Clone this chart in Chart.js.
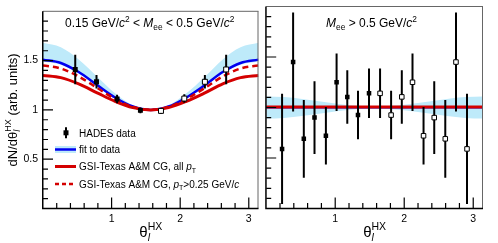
<!DOCTYPE html>
<html><head><meta charset="utf-8">
<script src="https://cdn.jsdelivr.net/npm/chart.js@4.4.0/dist/chart.umd.min.js"></script>
<style>
html,body{margin:0;padding:0;background:#fff;}
#wrap{position:relative;width:498px;height:243px;overflow:hidden;background:#fff;}
.box{position:absolute;top:0;}
</style></head><body>
<div id="wrap">
<div class="box" style="left:0;width:263px;height:243px"><canvas id="c1" width="263" height="243"></canvas></div>
<div class="box" style="left:262px;width:236px;height:243px"><canvas id="c2" width="236" height="243"></canvas></div>
</div>
<script>
// ---------------- data ----------------
const xTickValues = [1, 2, 3];
const xTickLabels = ['1', '2', '3'];
const yTickValues = [0.5, 1, 1.5];
const yTickLabels = ['0.5', '1', '1.5'];

// low mass panel (0.15 < Mee < 0.5 GeV/c^2)
const lowThetaFilled = [0.47, 0.78, 1.08, 1.42];
const lowValueFilled = [1.41, 1.285, 1.11, 0.995];
const lowErrorFilled = [0.15, 0.068, 0.043, 0.03];
const lowThetaOpen = [1.72, 2.06, 2.36, 2.67];
const lowValueOpen = [0.99, 1.115, 1.285, 1.41];
const lowErrorOpen = [0.03, 0.043, 0.068, 0.15];

const curveTheta = [0, 0.26, 0.52, 0.79, 1.05, 1.31, 1.5708, 1.83, 2.09, 2.36, 2.62, 2.88, 3.1416];
const fitLow = [1.51, 1.476, 1.384, 1.252, 1.126, 1.034, 1.0, 1.034, 1.126, 1.252, 1.384, 1.476, 1.51];
const fitBandLowTop = [1.68, 1.635, 1.512, 1.337, 1.168, 1.045, 1.0, 1.045, 1.168, 1.337, 1.512, 1.635, 1.68];
const fitBandLowBottom = [1.49, 1.458, 1.369, 1.243, 1.121, 1.033, 1.0, 1.033, 1.121, 1.243, 1.369, 1.458, 1.49];
const gsiAllPtLow = [1.35, 1.327, 1.264, 1.173, 1.087, 1.023, 1.0, 1.023, 1.087, 1.173, 1.264, 1.327, 1.35];
const gsiPtCutLow = [1.45, 1.42, 1.339, 1.223, 1.111, 1.030, 1.0, 1.030, 1.111, 1.223, 1.339, 1.42, 1.45];

// high mass panel (Mee > 0.5 GeV/c^2)
const highThetaFilled = [0.23, 0.39, 0.545, 0.70, 0.865, 1.02, 1.175, 1.33, 1.49];
const highValueFilled = [0.59, 1.45, 0.69, 0.90, 0.72, 1.25, 1.105, 0.925, 1.14];
const highErrorFilled = [0.545, 0.49, 0.385, 0.36, 0.285, 0.285, 0.265, 0.24, 0.245];
const highThetaOpen = [1.65, 1.81, 1.965, 2.12, 2.28, 2.435, 2.595, 2.75, 2.91];
const highValueOpen = [1.14, 0.925, 1.105, 1.25, 0.72, 0.90, 0.69, 1.45, 0.59];
const highErrorOpen = [0.245, 0.24, 0.265, 0.285, 0.285, 0.36, 0.385, 0.49, 0.545];

const fitHigh = [1.003, 1.003, 1.003, 1.003, 1.003, 1.003, 1.003, 1.003, 1.003, 1.003, 1.003, 1.003, 1.003];
const fitBandHighTop = [1.11, 1.103, 1.085, 1.06, 1.035, 1.017, 1.01, 1.017, 1.035, 1.06, 1.085, 1.103, 1.11];
const fitBandHighBottom = [0.89, 0.897, 0.915, 0.94, 0.965, 0.983, 0.99, 0.983, 0.965, 0.94, 0.915, 0.897, 0.89];
const gsiHigh = [1.004, 1.004, 1.004, 1.004, 1.004, 1.004, 1.004, 1.004, 1.004, 1.004, 1.004, 1.004, 1.004];

// ---------------- helpers ----------------
const FONT = "'Liberation Sans', Arial, Helvetica, sans-serif";
const BLUE = '#0000f0', RED = '#d40000', BAND = 'rgb(190,234,250)';

function pts(xs, ys) { return xs.map((x, i) => ({x: x, y: ys[i]})); }
function errPts(xs, ys, es) {
  const out = [];
  xs.forEach((x, i) => { out.push({x: x, y: ys[i] - es[i]}, {x: x, y: ys[i] + es[i]}, {x: x, y: null}); });
  return out;
}
function curve(ys, color, width, dash, order) {
  return {data: pts(curveTheta, ys), showLine: true, borderColor: color, borderWidth: width, borderDash: dash || [],
    pointRadius: 0, fill: false, cubicInterpolationMode: 'monotone', order: order};
}
function band(top, bottom, order) {
  return [
    {data: pts(curveTheta, top), showLine: true, borderWidth: 0, borderColor: 'rgba(0,0,0,0)', backgroundColor: BAND,
     pointRadius: 0, fill: '+1', cubicInterpolationMode: 'monotone', order: order},
    {data: pts(curveTheta, bottom), showLine: true, borderWidth: 0, borderColor: 'rgba(0,0,0,0)',
     pointRadius: 0, fill: false, cubicInterpolationMode: 'monotone', order: order + 1}
  ];
}
function markers(xs, ys, open, r, order) {
  return {data: pts(xs, ys), showLine: false, pointStyle: 'rect', pointRadius: r, pointHoverRadius: r,
    backgroundColor: open ? '#fff' : '#000', borderColor: '#000', borderWidth: open ? 1 : 0, order: order};
}
function errors(xs, ys, es, order) {
  return {data: errPts(xs, ys, es), showLine: true, spanGaps: false, borderColor: '#000', borderWidth: 2,
    pointRadius: 0, fill: false, order: order};
}

function rich(ctx, x, y, parts, size) {
  let cx = x;
  for (const p of parts) {
    const s = (p.sub || p.sup) ? size * 0.7 : size;
    ctx.font = (p.i ? 'italic ' : '') + s + 'px ' + FONT;
    let yy = y;
    if (p.sub) yy = y + size * 0.28;
    if (p.sup) yy = y - size * 0.42;
    ctx.fillText(p.t, cx, yy);
    if (!p.stack) cx += ctx.measureText(p.t).width;
  }
  return cx - x;
}
function richWidth(ctx, parts, size) {
  let w = 0;
  for (const p of parts) {
    const s = (p.sub || p.sup) ? size * 0.7 : size;
    ctx.font = (p.i ? 'italic ' : '') + s + 'px ' + FONT;
    if (!p.stack) w += ctx.measureText(p.t).width;
  }
  return w;
}

function drawFrameTicks(chart) {
  const {ctx, chartArea: a, scales: {x, y}} = chart;
  ctx.save();
  ctx.strokeStyle = '#000';
  ctx.lineWidth = 1.2;
  ctx.beginPath();
  for (let k = 1; k * 0.2 < Math.PI; k++) {
    const v = k * 0.2;
    const major = Math.abs(v - Math.round(v)) < 1e-6;
    const px = x.getPixelForValue(v);
    ctx.moveTo(px, a.bottom);
    ctx.lineTo(px, a.bottom - (major ? 11 : 5.5));
  }
  for (let k = 1; k < 20; k++) {
    const v = k * 0.1;
    const major = k % 5 === 0;
    const py = y.getPixelForValue(v);
    ctx.moveTo(a.left, py);
    ctx.lineTo(a.left + (major ? 10 : 5), py);
  }
  ctx.stroke();
  // frame
  ctx.strokeStyle = '#666';
  ctx.lineWidth = 1;
  ctx.beginPath();
  ctx.moveTo(a.left, a.top);
  ctx.lineTo(a.right, a.top);
  ctx.moveTo(a.right - 0.5, a.top);
  ctx.lineTo(a.right - 0.5, a.bottom);
  ctx.stroke();
  ctx.strokeStyle = '#000';
  ctx.lineWidth = 1.5;
  ctx.beginPath();
  ctx.moveTo(a.left - 0.25, a.top);
  ctx.lineTo(a.left - 0.25, a.bottom + 0.75);
  ctx.moveTo(a.left - 1, a.bottom);
  ctx.lineTo(a.right, a.bottom);
  ctx.stroke();
  ctx.restore();
}

function xTitle(ctx, cx, baseline) {
  ctx.fillStyle = '#000';
  ctx.textBaseline = 'alphabetic';
  ctx.textAlign = 'left';
  const parts = [{t: 'θ'}, {t: 'l', i: 1, sub: 1, stack: 1}, {t: 'HX', sup: 1}];
  const w = richWidth(ctx, parts, 15);
  rich(ctx, cx - w / 2, baseline, parts, 15);
}

function scalesFor(showY, yWidth) {
  return {
    x: {type: 'linear', min: 0, max: Math.PI, grid: {display: false, drawTicks: false}, border: {display: false},
      afterBuildTicks: s => { s.ticks = xTickValues.map(v => ({value: v})); },
      ticks: {callback: (v, i) => xTickLabels[i], font: {family: FONT, size: 10.5}, color: '#000', padding: 4,
        maxRotation: 0, autoSkip: false},
      afterFit: s => { s.height = 34.5; }},
    y: {type: 'linear', min: 0, max: 2, display: showY, grid: {display: false, drawTicks: false}, border: {display: false},
      afterBuildTicks: s => { s.ticks = yTickValues.map(v => ({value: v})); },
      ticks: {callback: (v, i) => yTickLabels[i], font: {family: FONT, size: 10.5}, color: '#000', padding: 5,
        autoSkip: false},
      afterFit: s => { s.width = yWidth; }}
  };
}

// ---------------- left chart ----------------
const leftText = {
  id: 'leftText',
  afterDatasetsDraw(chart) { drawFrameTicks(chart); },
  afterDraw(chart) {
    const {ctx, chartArea: a} = chart;
    ctx.save();
    ctx.fillStyle = '#000';
    ctx.textBaseline = 'alphabetic';
    ctx.textAlign = 'left';
    rich(ctx, 65, 27, [{t: '0.15 GeV/'}, {t: 'c', i: 1}, {t: '2', sup: 1}, {t: ' < '}, {t: 'M', i: 1}, {t: 'ee', sub: 1},
      {t: ' < 0.5 GeV/'}, {t: 'c', i: 1}, {t: '2', sup: 1}], 12);
    // legend
    ctx.fillStyle = '#000';
    ctx.strokeStyle = '#000';
    ctx.lineWidth = 2;
    ctx.beginPath(); ctx.moveTo(66, 127.3); ctx.lineTo(66, 138.3); ctx.stroke();
    ctx.fillRect(63.5, 130.3, 5, 5);
    ctx.fillStyle = BAND; ctx.fillRect(55, 146, 21, 7);
    ctx.strokeStyle = BLUE; ctx.lineWidth = 2.5;
    ctx.beginPath(); ctx.moveTo(55, 149.5); ctx.lineTo(76, 149.5); ctx.stroke();
    ctx.strokeStyle = RED; ctx.lineWidth = 3;
    ctx.beginPath(); ctx.moveTo(55, 166.5); ctx.lineTo(76, 166.5); ctx.stroke();
    ctx.lineWidth = 2.5; ctx.setLineDash([4, 3]);
    ctx.beginPath(); ctx.moveTo(55, 184); ctx.lineTo(76, 184); ctx.stroke();
    ctx.setLineDash([]);
    ctx.fillStyle = '#000';
    const lx = 79, fs = 10;
    rich(ctx, lx, 136.5, [{t: 'HADES data'}], fs);
    rich(ctx, lx, 153.2, [{t: 'fit to data'}], fs);
    rich(ctx, lx, 170.2, [{t: 'GSI-Texas A&M CG, all '}, {t: 'p', i: 1}, {t: 'T', sub: 1}], fs);
    rich(ctx, lx, 187.5, [{t: 'GSI-Texas A&M CG, '}, {t: 'p', i: 1}, {t: 'T', sub: 1}, {t: '>0.25 GeV/'}, {t: 'c', i: 1}], fs);
    // axis titles
    xTitle(ctx, (a.left + a.right) / 2, 236.5);
    ctx.save();
    ctx.translate(16.5, (a.top + a.bottom) / 2);
    ctx.rotate(-Math.PI / 2);
    const yparts = [{t: 'dN/dθ'}, {t: 'l', i: 1, sub: 1, stack: 1}, {t: 'HX', sup: 1}, {t: ' (arb. units)'}];
    const w = richWidth(ctx, yparts, 13);
    rich(ctx, -w / 2, 0, yparts, 13);
    ctx.restore();
    ctx.restore();
  }
};

new Chart(document.getElementById('c1'), {
  type: 'line',
  data: {datasets: [
    markers(lowThetaFilled, lowValueFilled, false, 3.5, 0),
    markers(lowThetaOpen, lowValueOpen, true, 3.5, 1),
    errors(lowThetaFilled, lowValueFilled, lowErrorFilled, 2),
    errors(lowThetaOpen, lowValueOpen, lowErrorOpen, 3),
    curve(gsiAllPtLow, RED, 3, [], 4),
    curve(gsiPtCutLow, RED, 2.5, [6, 4], 5),
    curve(fitLow, BLUE, 2.5, [], 6),
    ...band(fitBandLowTop, fitBandLowBottom, 7)
  ]},
  options: {
    animation: false, responsive: false, events: [],
    plugins: {legend: {display: false}, tooltip: {enabled: false}},
    layout: {padding: {left: 0, right: 1, top: 6.5, bottom: 0}},
    scales: scalesFor(true, 43)
  },
  plugins: [leftText]
});

// ---------------- right chart ----------------
const rightText = {
  id: 'rightText',
  afterDatasetsDraw(chart) { drawFrameTicks(chart); },
  afterDraw(chart) {
    const {ctx, chartArea: a} = chart;
    ctx.save();
    ctx.fillStyle = '#000';
    ctx.textBaseline = 'alphabetic';
    ctx.textAlign = 'left';
    rich(ctx, 326 - 262, 27, [{t: 'M', i: 1}, {t: 'ee', sub: 1}, {t: ' > 0.5 GeV/'}, {t: 'c', i: 1}, {t: '2', sup: 1}], 12);
    xTitle(ctx, (a.left + a.right) / 2, 236.5);
    ctx.restore();
  }
};

new Chart(document.getElementById('c2'), {
  type: 'line',
  data: {datasets: [
    markers(highThetaFilled, highValueFilled, false, 3.2, 0),
    markers(highThetaOpen, highValueOpen, true, 3.2, 1),
    errors(highThetaFilled, highValueFilled, highErrorFilled, 2),
    errors(highThetaOpen, highValueOpen, highErrorOpen, 3),
    curve(gsiHigh, RED, 3, [], 4),
    curve(fitHigh, BLUE, 2.5, [], 5),
    ...band(fitBandHighTop, fitBandHighBottom, 6)
  ]},
  options: {
    animation: false, responsive: false, events: [],
    plugins: {legend: {display: false}, tooltip: {enabled: false}},
    layout: {padding: {left: 0.5, right: 15, top: 6.5, bottom: 0}},
    scales: scalesFor(false, 0)
  },
  plugins: [rightText]
});
</script>
</body></html>
